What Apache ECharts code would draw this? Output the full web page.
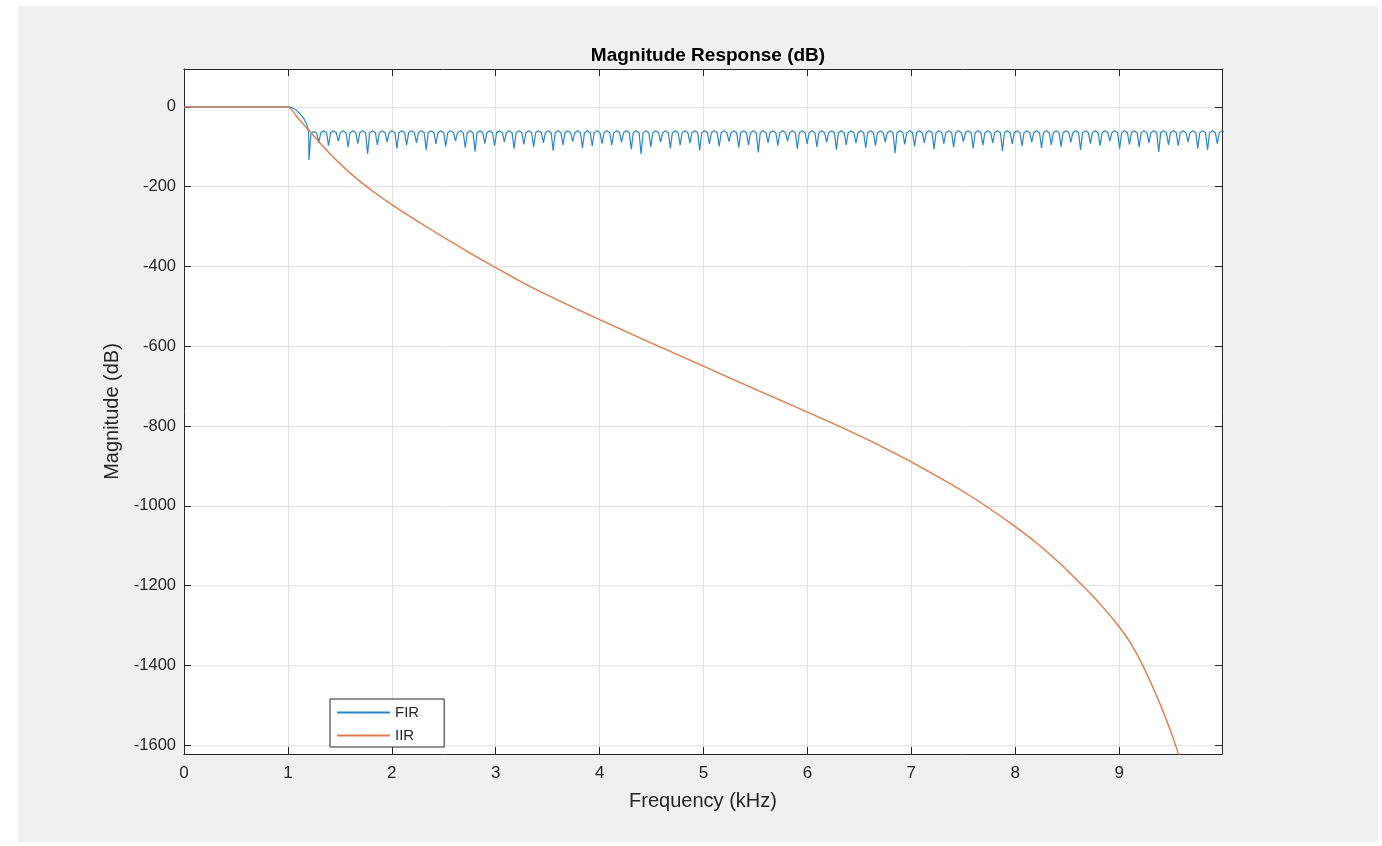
<!DOCTYPE html>
<html>
<head>
<meta charset="utf-8">
<script src="https://cdn.jsdelivr.net/npm/echarts@6/dist/echarts.min.js"></script>
<style>
html,body{margin:0;padding:0;background:#ffffff;width:1382px;height:846px;overflow:hidden;}
#bg{position:absolute;left:18px;top:6px;width:1360px;height:836px;background:#f0f0f0;}
#chart{position:absolute;left:0;top:0;width:1382px;height:846px;}
</style>
</head>
<body>
<div id="bg"></div>
<div id="chart"></div>
<script>
// ---- data ----
const titleText = 'Magnitude Response (dB)';
const xName = 'Frequency (kHz)';
const yName = 'Magnitude (dB)';
const seriesNames = ['FIR', 'IIR'];
const xTicks = [0, 1, 2, 3, 4, 5, 6, 7, 8, 9];
const yTicks = [-1600, -1400, -1200, -1000, -800, -600, -400, -200, 0];

const iirFreq = [0, 0.5, 1.0, 1.1, 1.209, 1.3, 1.4, 1.5, 1.6, 1.7, 1.8, 1.9, 2.0, 2.25, 2.52, 2.75, 3.0, 3.25, 3.5, 3.75, 4.0, 4.5, 5.0, 5.5, 6.0, 6.25, 6.5, 6.75, 7.0, 7.25, 7.5, 7.72, 8.0, 8.2, 8.42, 8.64, 8.82, 9.0, 9.11, 9.22, 9.32, 9.41, 9.49, 9.57, 9.65];
const iirDb   = [0, 0, 0, -29, -61, -88, -116, -142, -166, -188, -208, -227, -245, -287, -330, -366, -403, -439, -472, -503, -533, -592, -650, -708, -765, -794, -824, -856, -890, -926, -964, -1001, -1052, -1092, -1142, -1198, -1247, -1303, -1344, -1396, -1452, -1507, -1561, -1621, -1690];

const firFreq = [
  0, 0.5, 1.0, 1.04, 1.08, 1.12, 1.15, 1.177, 1.195, 1.200,
  1.203,1.222,1.250,1.278, 1.297,1.316,1.344,1.372, 1.391,1.410,1.438,1.466, 1.485,1.504,1.532,1.560,
  1.579,1.598,1.626,1.654, 1.673,1.692,1.720,1.748, 1.767,1.786,1.814,1.842, 1.861,1.880,1.908,1.936,
  1.955,1.974,2.002,2.030, 2.049,2.068,2.096,2.124, 2.143,2.162,2.190,2.218, 2.237,2.256,2.284,2.312,
  2.331,2.350,2.378,2.406, 2.425,2.444,2.472,2.500, 2.519,2.538,2.566,2.594, 2.613,2.632,2.660,2.688,
  2.707,2.726,2.754,2.782, 2.801,2.820,2.848,2.876, 2.895,2.914,2.942,2.970, 2.989,3.008,3.036,3.064,
  3.083,3.102,3.130,3.158, 3.177,3.196,3.224,3.252, 3.271,3.290,3.318,3.346, 3.365,3.384,3.412,3.440,
  3.459,3.478,3.506,3.534, 3.553,3.572,3.600,3.628, 3.647,3.666,3.694,3.722, 3.741,3.760,3.788,3.816,
  3.835,3.854,3.882,3.910, 3.929,3.948,3.976,4.004, 4.023,4.042,4.070,4.098, 4.117,4.136,4.164,4.192,
  4.211,4.230,4.258,4.286, 4.305,4.324,4.352,4.380, 4.399,4.418,4.446,4.474, 4.493,4.512,4.540,4.568,
  4.587,4.606,4.634,4.662, 4.681,4.700,4.728,4.756, 4.775,4.794,4.822,4.850, 4.869,4.888,4.916,4.944,
  4.963,4.982,5.010,5.038, 5.057,5.076,5.104,5.132, 5.151,5.170,5.198,5.226, 5.245,5.264,5.292,5.320,
  5.339,5.358,5.386,5.414, 5.433,5.452,5.480,5.508, 5.527,5.546,5.574,5.602, 5.621,5.640,5.668,5.696,
  5.715,5.734,5.762,5.790, 5.809,5.828,5.856,5.884, 5.903,5.922,5.950,5.978, 5.997,6.016,6.044,6.072,
  6.091,6.110,6.138,6.166, 6.185,6.204,6.232,6.260, 6.279,6.298,6.326,6.354, 6.373,6.392,6.420,6.448,
  6.467,6.486,6.514,6.542, 6.561,6.580,6.608,6.636, 6.655,6.674,6.702,6.730, 6.749,6.768,6.796,6.824,
  6.843,6.862,6.890,6.918, 6.937,6.956,6.984,7.012, 7.031,7.050,7.078,7.106, 7.125,7.144,7.172,7.200,
  7.219,7.238,7.266,7.294, 7.313,7.332,7.360,7.388, 7.407,7.426,7.454,7.482, 7.501,7.520,7.548,7.576,
  7.595,7.614,7.642,7.670, 7.689,7.708,7.736,7.764, 7.783,7.802,7.830,7.858, 7.877,7.896,7.924,7.952,
  7.971,7.990,8.018,8.046, 8.065,8.084,8.112,8.140, 8.159,8.178,8.206,8.234, 8.253,8.272,8.300,8.328,
  8.347,8.366,8.394,8.422, 8.441,8.460,8.488,8.516, 8.535,8.554,8.582,8.610, 8.629,8.648,8.676,8.704,
  8.723,8.742,8.770,8.798, 8.817,8.836,8.864,8.892, 8.911,8.930,8.958,8.986, 9.005,9.024,9.052,9.080,
  9.099,9.118,9.146,9.174, 9.193,9.212,9.240,9.268, 9.287,9.306,9.334,9.362, 9.381,9.400,9.428,9.456,
  9.475,9.494,9.522,9.550, 9.569,9.588,9.616,9.644, 9.663,9.682,9.710,9.738, 9.757,9.776,9.804,9.832,
  9.851,9.870,9.898,9.926, 9.945,9.964,9.992,10.020
];
const firDb = [
  0, 0, 0, -2, -8, -18, -28, -41, -55, -75,
  -133,-66,-62,-66, -90,-65,-60,-65, -97,-65,-60,-65, -86,-65,-60,-65,
  -101,-65,-60,-65, -92,-65,-60,-65, -118,-65,-60,-65, -95,-65,-60,-65,
  -88,-65,-60,-65, -104,-65,-60,-65, -96,-65,-60,-65, -90,-65,-60,-65,
  -108,-65,-60,-65, -93,-65,-60,-65, -99,-65,-60,-65, -86,-65,-60,-65,
  -102,-65,-60,-65, -112,-65,-60,-65, -92,-65,-60,-65, -97,-65,-60,-65,
  -88,-65,-60,-65, -105,-65,-60,-65, -94,-65,-60,-65, -100,-65,-60,-65,
  -90,-65,-60,-65, -110,-65,-60,-65, -95,-65,-60,-65, -87,-65,-60,-65,
  -103,-65,-60,-65, -98,-65,-60,-65, -92,-65,-60,-65, -96,-65,-60,-65,
  -89,-65,-60,-65, -106,-65,-60,-65, -118,-65,-60,-65, -100,-65,-60,-65,
  -88,-65,-60,-65, -104,-65,-60,-65, -96,-65,-60,-65, -91,-65,-60,-65,
  -109,-65,-60,-65, -93,-65,-60,-65, -99,-65,-60,-65, -87,-65,-60,-65,
  -102,-65,-60,-65, -95,-65,-60,-65, -114,-65,-60,-65, -90,-65,-60,-65,
  -97,-65,-60,-65, -86,-65,-60,-65, -105,-65,-60,-65, -93,-65,-60,-65,
  -100,-65,-60,-65, -89,-65,-60,-65, -107,-65,-60,-65, -95,-65,-60,-65,
  -91,-65,-60,-65, -103,-65,-60,-65, -97,-65,-60,-65, -88,-65,-60,-65,
  -116,-65,-60,-65, -94,-65,-60,-65, -99,-65,-60,-65, -90,-65,-60,-65,
  -106,-65,-60,-65, -92,-65,-60,-65, -101,-65,-60,-65, -87,-65,-60,-65,
  -104,-65,-60,-65, -96,-65,-60,-65, -90,-65,-60,-65, -111,-65,-60,-65,
  -93,-65,-60,-65, -98,-65,-60,-65, -88,-65,-60,-65, -103,-65,-60,-65,
  -95,-65,-60,-65, -100,-65,-60,-65, -89,-65,-60,-65, -108,-65,-60,-65,
  -92,-65,-60,-65, -97,-65,-60,-65, -86,-65,-60,-65, -105,-65,-60,-65,
  -94,-65,-60,-65, -101,-65,-60,-65, -90,-65,-60,-65, -113,-65,-60,-65,
  -95,-65,-60,-65, -98,-65,-60,-65, -88,-65,-60,-65, -104,-65,-60,-65,
  -108,-65,-60,-65, -92,-65,-60,-65
];

// ---- chart ----
const zip = (xs, ys) => xs.map((x, i) => [x, ys[i]]);
const FONT = '"Liberation Sans", Arial, Helvetica, sans-serif';
const AX = '#262626';
const GRIDC = '#e2e2e2';
const FIR_C = '#2b86cb';
const IIR_C = '#e07a4c';
const plain = v => String(v);

const baseAxis = {
  type: 'value',
  axisLine: { show: true, onZero: false, lineStyle: { color: AX, width: 1 } },
  splitLine: { show: false },
  axisLabel: { show: false }
};

const chart = echarts.init(document.getElementById('chart'), null, { renderer: 'canvas' });
chart.setOption({
  backgroundColor: 'transparent',
  animation: false,
  textStyle: { fontFamily: FONT },
  title: {
    text: titleText,
    left: 703, top: 41, textAlign: 'center',
    textStyle: { fontFamily: FONT, fontSize: 19, fontWeight: 'bold', color: '#000' }
  },
  grid: { left: 184, top: 69, width: 1038, height: 685, containLabel: false, show: true, backgroundColor: '#ffffff', borderWidth: 0 },
  legend: {
    orient: 'vertical', left: 330, top: 699,
    data: seriesNames,
    itemWidth: 53, itemHeight: 14, itemGap: 8,
    padding: [6, 25, 4, 6],
    itemStyle: { opacity: 0 },
    backgroundColor: '#ffffff', borderColor: AX, borderWidth: 1, borderRadius: 0,
    textStyle: { fontFamily: FONT, fontSize: 15, color: AX }
  },
  xAxis: [
    Object.assign({}, baseAxis, {
      position: 'bottom', min: 0, max: 9.99,
      name: xName, nameLocation: 'middle', nameGap: 37,
      nameTextStyle: { fontFamily: FONT, fontSize: 20, color: AX },
      axisTick: { show: true, inside: true, length: 7, customValues: xTicks, lineStyle: { color: AX, width: 1 } },
      axisLabel: { show: true, customValues: xTicks, formatter: plain, margin: 11, fontFamily: FONT, fontSize: 17, color: AX },
      splitLine: { show: true, lineStyle: { color: GRIDC, width: 1 } }
    }),
    Object.assign({}, baseAxis, {
      position: 'top', min: 0, max: 9.99,
      axisTick: { show: true, inside: true, length: 7, customValues: xTicks, lineStyle: { color: AX, width: 1 } }
    })
  ],
  yAxis: [
    Object.assign({}, baseAxis, {
      position: 'left', min: -1622, max: 95,
      name: yName, nameLocation: 'middle', nameGap: 57, nameRotate: 90,
      nameTextStyle: { fontFamily: FONT, fontSize: 20, color: AX },
      axisTick: { show: true, inside: true, length: 7, customValues: yTicks, lineStyle: { color: AX, width: 1 } },
      axisLabel: { show: true, customValues: yTicks, formatter: plain, margin: 8, fontFamily: FONT, fontSize: 16.5, color: AX },
      splitLine: { show: true, lineStyle: { color: GRIDC, width: 1 } }
    }),
    Object.assign({}, baseAxis, {
      position: 'right', min: -1622, max: 95,
      axisTick: { show: true, inside: true, length: 7, customValues: yTicks, lineStyle: { color: AX, width: 1 } }
    })
  ],
  series: [
    {
      name: seriesNames[0], type: 'line', xAxisIndex: 0, yAxisIndex: 0,
      data: zip(firFreq, firDb), symbol: 'none', showSymbol: false, clip: true,
      lineStyle: { color: FIR_C, width: 1.2 }, itemStyle: { color: FIR_C }
    },
    {
      name: seriesNames[1], type: 'line', xAxisIndex: 0, yAxisIndex: 0,
      data: zip(iirFreq, iirDb), symbol: 'none', showSymbol: false, clip: true, smooth: 0.2,
      lineStyle: { color: IIR_C, width: 1.4 }, itemStyle: { color: IIR_C }
    }
  ]
});
</script>
</body>
</html>
